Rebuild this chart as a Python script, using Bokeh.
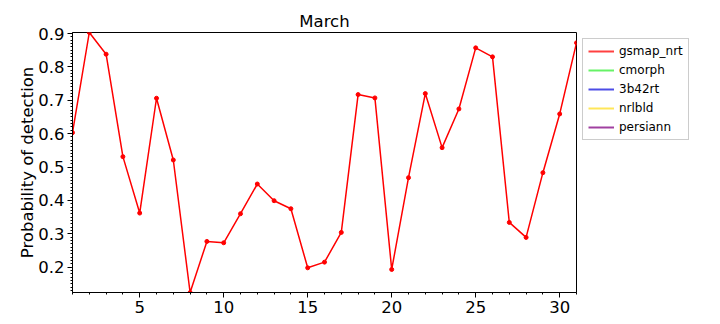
from bokeh.plotting import figure
from bokeh.models import Legend, LegendItem, Range1d, SingleIntervalTicker, ColumnDataSource
from bokeh.embed import file_html
from bokeh.resources import INLINE

days = list(range(1, 32))
gsmap_nrt = [0.603, 0.903, 0.838, 0.531, 0.362, 0.706, 0.521, 0.124, 0.277, 0.273,
             0.360, 0.449, 0.399, 0.375, 0.198, 0.215, 0.304, 0.717, 0.707, 0.193,
             0.468, 0.720, 0.558, 0.674, 0.857, 0.830, 0.334, 0.289, 0.483, 0.659, 0.872]
series_names = ["gsmap_nrt", "cmorph", "3b42rt", "nrlbld", "persiann"]
series_colors = ["red", "#33ee33", "#1111dd", "#ffdd22", "purple"]
title_text = "March"
y_label = "Probability of detection"

FONT = "DejaVu Sans"

p = figure(frame_width=504, frame_height=260, output_backend="svg", toolbar_location=None,
           x_range=Range1d(1, 31), y_range=Range1d(min(gsmap_nrt), max(gsmap_nrt)),
           min_border_left=72, min_border_right=0, min_border_top=32, min_border_bottom=32)
p.title.text = title_text
p.title.align = "center"
p.title.text_font = FONT
p.title.text_font_size = "16.5px"
p.title.text_font_style = "normal"
p.title.text_color = "black"
p.title.offset = 0
p.title.standoff = 3

p.xgrid.visible = False
p.ygrid.visible = False
p.outline_line_color = "black"
p.outline_line_width = 1

p.xaxis.ticker = SingleIntervalTicker(interval=5, num_minor_ticks=5)
p.yaxis.ticker = SingleIntervalTicker(interval=0.1, num_minor_ticks=10)
for ax in (p.xaxis[0], p.yaxis[0]):
    ax.major_label_text_font = FONT
    ax.major_label_text_font_size = "16.5px"
    ax.major_label_text_color = "black"
    ax.major_label_standoff = 3
    ax.axis_label_text_font = FONT
    ax.axis_label_text_font_size = "16.5px"
    ax.axis_label_text_font_style = "normal"
    ax.axis_label_text_color = "black"
    ax.major_tick_out = 5
    ax.major_tick_in = 0
    ax.minor_tick_out = 2
    ax.minor_tick_in = 0
    ax.axis_line_color = "black"
    ax.major_tick_line_color = "black"
    ax.minor_tick_line_color = "black"
p.yaxis.axis_label = y_label
p.yaxis.axis_label_standoff = -2

data = {"gsmap_nrt": gsmap_nrt}
items = []
nan = float("nan")
for name, col in zip(series_names, series_colors):
    if name in data:
        src = ColumnDataSource(dict(x=days, y=data[name]))
        p.line("x", "y", source=src, line_color=col, line_width=1.5)
        p.scatter("x", "y", source=src, size=4, color=col)
    proxy = ColumnDataSource(dict(x=days, y=[nan] * len(days)))
    r = p.line("x", "y", source=proxy, line_color=col, line_width=2, line_alpha=0.75)
    items.append(LegendItem(label=name, renderers=[r]))

legend = Legend(items=items, location="top_left")
legend.label_text_font = FONT
legend.label_text_font_size = "12px"
legend.label_text_color = "black"
legend.glyph_width = 26
legend.glyph_height = 14
legend.label_height = 14
legend.spacing = 5
legend.padding = 5
legend.margin = 6
legend.border_line_color = "#cccccc"
legend.border_line_alpha = 1
p.add_layout(legend, "right")

open("out.html", "w").write(file_html(p, INLINE))
